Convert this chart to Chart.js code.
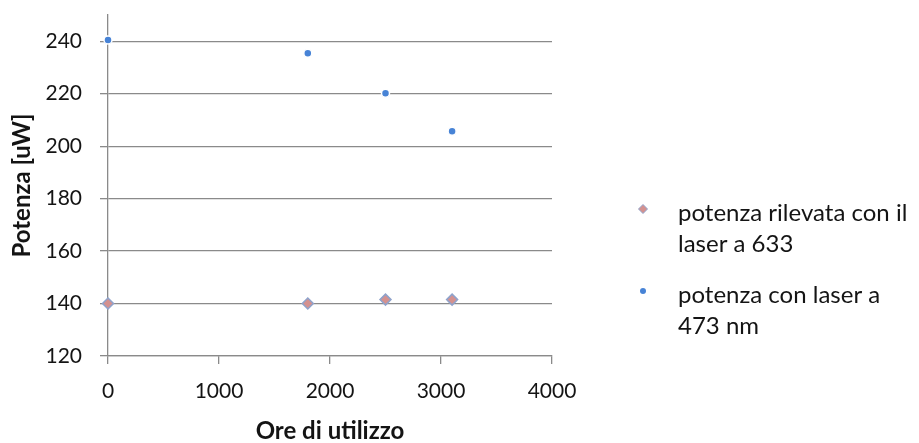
<!DOCTYPE html>
<html>
<head>
<meta charset="utf-8">
<script src="https://cdn.jsdelivr.net/npm/chart.js@4/dist/chart.umd.min.js"></script>
<style>
  html, body { margin: 0; padding: 0; background: #fff; }
  #wrap { width: 919px; height: 443px; position: relative; }
</style>
</head>
<body>
<div id="wrap"><canvas id="c"></canvas></div>
<script>
// Measured output power vs. hours of use
const hours633 = [0, 1800, 2500, 3100];
const power633 = [140, 140, 141.5, 141.5];
const hours473 = [0, 1800, 2500, 3100];
const power473 = [240.5, 235.4, 220.2, 205.7];

const seriesNames = [
  ['potenza rilevata con il', 'laser a 633'],
  ['potenza con laser a', '473 nm']
];
const xTitle = 'Ore di utilizzo';
const yTitle = 'Potenza [uW]';
const xTicks = [0, 1000, 2000, 3000, 4000];
const yTicks = [120, 140, 160, 180, 200, 220, 240];

const FONT = 'Lato';
const TEXT = '#141414';
const GRID = '#8a8a8a';

const toPoints = (xs, ys) => xs.map((x, i) => ({ x: x, y: ys[i] }));

// Legend to the right of the plot, with wrapped labels
const sideLegend = {
  id: 'sideLegend',
  afterDraw(chart, args, opts) {
    const ctx = chart.ctx;
    ctx.save();
    ctx.font = opts.fontSize + 'px ' + FONT;
    ctx.textBaseline = 'middle';
    ctx.textAlign = 'left';
    chart.data.datasets.forEach((ds, i) => {
      const y0 = opts.top + i * opts.entryGap;
      ctx.fillStyle = ds.backgroundColor;
      ctx.strokeStyle = ds.borderColor;
      ctx.lineWidth = opts.markerBorder[i];
      Chart.helpers.drawPoint(ctx, {
        pointStyle: ds.pointStyle,
        radius: opts.markerRadius[i],
        borderWidth: opts.markerBorder[i],
        rotation: 0
      }, opts.markerX, y0 - 4);
      ctx.fillStyle = TEXT;
      seriesNames[i].forEach((line, j) => {
        ctx.fillText(line, opts.textX, y0 + j * opts.lineGap);
      });
    });
    ctx.restore();
  }
};

new Chart(document.getElementById('c'), {
  type: 'scatter',
  data: {
    datasets: [
      {
        label: seriesNames[0].join(' '),
        data: toPoints(hours633, power633),
        pointStyle: 'rectRot',
        pointRadius: 5.5,
        backgroundColor: '#d4918f',
        borderColor: '#8fa3cc',
        borderWidth: 1.5,
        clip: false
      },
      {
        label: seriesNames[1].join(' '),
        data: toPoints(hours473, power473),
        pointStyle: 'circle',
        pointRadius: 4,
        backgroundColor: '#4783d6',
        borderColor: '#ffffff',
        borderWidth: 1.5,
        clip: false
      }
    ]
  },
  options: {
    responsive: true,
    maintainAspectRatio: false,
    animation: false,
    layout: { padding: { top: 15, right: 367, left: 0, bottom: 0 } },
    plugins: {
      legend: { display: false },
      tooltip: { enabled: false },
      sideLegend: {
        markerX: 643, textX: 678, top: 213, entryGap: 82, lineGap: 31,
        fontSize: 24, markerRadius: [4.5, 3], markerBorder: [1, 0]
      }
    },
    scales: {
      x: {
        type: 'linear',
        min: xTicks[0],
        max: xTicks[xTicks.length - 1],
        afterBuildTicks: (s) => { s.ticks = xTicks.map(v => ({ value: v })); },
        afterFit: (s) => { s.height = 87; },
        ticks: {
          color: TEXT, font: { family: FONT, size: 21 }, padding: 15,
          callback: (v) => String(v)
        },
        grid: { drawOnChartArea: false, drawTicks: true, tickLength: 8, color: GRID, lineWidth: 1.3 },
        border: { color: GRID, width: 1.3 },
        title: {
          display: true, text: xTitle, color: TEXT,
          font: { family: FONT, size: 24, weight: 'bold', lineHeight: 1 },
          padding: { top: 0, bottom: 0 }
        }
      },
      y: {
        min: yTicks[0],
        max: 250,
        afterBuildTicks: (s) => { s.ticks = yTicks.map(v => ({ value: v })); },
        afterFit: (s) => { s.width = 108; s.paddingTop = 0; s.paddingBottom = 0; },
        ticks: {
          color: TEXT, font: { family: FONT, size: 21 }, padding: 18,
          callback: (v) => String(v)
        },
        grid: { color: GRID, lineWidth: 1.3, tickLength: 8 },
        border: { color: GRID, width: 1.3 },
        title: {
          display: true, text: yTitle, color: TEXT,
          font: { family: FONT, size: 24, weight: 'bold', lineHeight: 1 },
          padding: { top: 10, bottom: 0 }
        }
      }
    }
  },
  plugins: [sideLegend]
});
</script>
</body>
</html>
